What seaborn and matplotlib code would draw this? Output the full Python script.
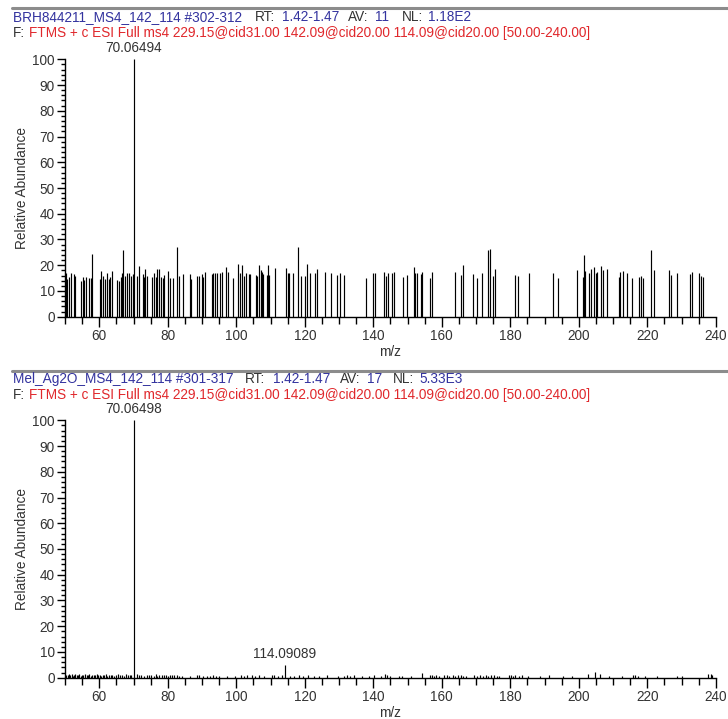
import matplotlib
matplotlib.use("Agg")
import matplotlib.pyplot as plt
from matplotlib.ticker import MultipleLocator
from matplotlib.lines import Line2D
import seaborn as sns

sns.set_style("ticks")
plt.rcParams['font.family'] = ['Liberation Sans', 'DejaVu Sans']

# ---------------- data ----------------
top_mz = [50.29, 50.68, 51.27, 51.66, 52.63, 53.02, 54.58, 55.16, 55.55, 56.13, 57.11, 57.69, 57.98,
          60.22, 60.61, 61.20, 61.59, 62.17, 62.76, 63.15, 63.63, 65.09, 65.68, 66.26, 66.55, 67.04,
          67.43, 68.01, 68.60, 69.18, 69.77, 70.06494, 70.93, 71.52, 72.69, 73.08, 73.47, 74.05, 75.41,
          76.00, 76.58, 76.97, 77.56, 78.14, 78.53, 78.92, 80.09, 80.67, 81.65, 82.62, 83.20, 84.37,
          86.51, 86.90, 88.66, 89.24, 90.02, 90.41, 90.99, 92.94, 93.33, 93.91, 94.50, 95.28, 95.86,
          97.03, 97.61, 99.17, 100.54, 101.12, 101.70, 102.29, 102.87, 103.65, 104.04, 105.79, 106.18,
          106.57, 107.16, 107.55, 107.94, 108.91, 109.30, 109.69, 111.25, 114.56, 115.14, 115.53,
          116.51, 118.06, 118.84, 120.01, 120.59, 121.57, 122.93, 123.52, 126.05, 127.80, 129.55,
          130.14, 131.50, 137.93, 139.87, 140.46, 142.99, 143.57, 144.35, 145.37, 146.05, 148.77,
          149.94, 151.89, 152.28, 152.67, 153.83, 154.22, 156.56, 157.05, 163.76, 165.51, 166.10,
          169.21, 170.38, 171.64, 173.40, 174.08, 174.86, 175.54, 181.28, 182.25, 185.37, 192.57,
          194.03, 199.58, 201.13, 201.52, 201.91, 202.98, 203.47, 204.35, 205.03, 205.41, 206.58,
          207.17, 208.14, 211.84, 212.03, 213.01, 214.17, 215.64, 217.68, 218.26, 218.65, 220.99,
          221.96, 226.24, 226.83, 228.58, 232.47, 232.96, 235.20, 235.59, 236.17]
top_ab = [16.9, 14.5, 15.5, 17.1, 16.5, 16.0, 14.0, 15.5, 14.2, 15.5, 14.9, 14.9, 24.2,
          14.5, 17.6, 15.8, 14.5, 17.1, 14.5, 15.5, 17.6, 14.2, 14.0, 15.5, 16.9, 25.9,
          15.8, 16.9, 16.9, 15.8, 16.6, 100.0, 15.8, 19.7, 16.6, 15.5, 18.6, 15.8, 15.5,
          16.9, 15.5, 18.4, 18.4, 15.5, 14.9, 16.2, 17.8, 15.2, 15.2, 26.9, 15.8, 16.6,
          16.6, 14.5, 15.8, 15.8, 16.6, 15.5, 17.5, 16.6, 16.9, 17.1, 17.1, 16.9, 17.5,
          19.4, 17.5, 15.2, 20.4, 17.1, 20.1, 15.8, 16.9, 16.6, 16.6, 16.2, 15.8, 20.1,
          18.1, 17.5, 16.6, 16.2, 20.1, 16.2, 18.8, 18.8, 16.9, 16.9, 16.9, 26.9, 15.8,
          15.8, 20.4, 16.9, 17.1, 18.4, 17.5, 17.1, 16.2, 17.1, 16.2, 14.9, 17.1, 17.1,
          17.5, 15.8, 17.1, 17.0, 17.5, 15.5, 16.2, 19.4, 16.9, 17.1, 16.6, 17.5, 14.9,
          17.5, 17.5, 16.2, 20.1, 16.6, 15.2, 17.1, 25.9, 26.4, 15.8, 18.4, 16.2, 15.8,
          16.9, 17.1, 14.9, 18.1, 15.5, 24.0, 17.8, 16.9, 18.4, 19.4, 17.1, 17.5, 19.7,
          18.1, 18.4, 15.5, 17.5, 17.8, 17.1, 14.9, 15.5, 15.8, 14.9, 25.9, 18.1, 18.1,
          16.2, 16.9, 16.6, 17.5, 16.9, 15.8, 15.5]

bot_mz = [50.4, 50.8, 51.1, 51.5, 51.9, 52.3, 52.7, 53.0, 53.4, 53.8, 54.2, 54.6, 55.0, 55.4, 55.9,
          56.3, 56.7, 57.1, 57.5, 58.0, 58.4, 58.8, 59.2, 59.7, 60.1, 60.6, 61.0, 61.5, 62.0, 62.4,
          62.9, 63.3, 63.8, 64.4, 65.0, 65.6, 66.1, 66.7, 67.3, 67.8, 68.3, 68.9, 69.4, 70.06498,
          71.0, 71.6, 72.3, 73.1, 73.8, 74.5, 75.2, 75.9, 76.6, 77.0, 77.5, 78.3, 79.0, 79.4, 80.2,
          80.8, 81.3, 81.9, 82.6, 83.4, 84.1, 86.6, 88.5, 89.2, 90.3, 91.6, 92.4, 93.3, 94.0, 95.1,
          97.3, 99.6, 101.3, 102.2, 103.0, 104.6, 105.4, 106.7, 108.2, 110.3, 111.0, 112.3, 113.3,
          114.09089, 115.8, 117.0, 118.3, 119.6, 120.8, 122.6, 124.1, 126.4, 129.8, 131.4, 132.2,
          133.1, 134.3, 136.6, 138.8, 140.3, 142.2, 143.3, 144.0, 145.0, 147.6, 148.5, 151.0, 154.1,
          156.6, 157.1, 157.6, 158.3, 159.2, 160.6, 161.4, 162.1, 163.3, 164.0, 164.7, 165.6, 166.3,
          167.1, 169.3, 170.4, 171.2, 172.0, 172.8, 173.6, 174.3, 175.1, 176.0, 176.7, 179.6, 180.1,
          180.8, 181.5, 182.4, 183.5, 185.2, 188.6, 191.2, 195.5, 198.1, 202.8, 204.8, 206.3, 208.9,
          212.6, 215.8, 216.4, 217.3, 219.4, 222.7, 228.6, 230.1, 237.8, 238.5, 239.0]
bot_ab = [1.2, 0.9, 1.4, 1.0, 1.3, 0.8, 1.2, 1.5, 0.9, 1.1, 1.3, 0.8, 1.2, 1.0, 1.4,
          0.9, 1.1, 1.3, 0.7, 1.0, 1.2, 0.9, 1.4, 1.0, 1.1, 0.8, 1.2, 0.9, 1.3, 0.7,
          1.0, 1.2, 0.9, 0.8, 1.1, 1.3, 0.9, 1.2, 0.8, 1.4, 1.0, 0.9, 1.1, 100.0,
          1.3, 0.9, 1.0, 0.8, 1.2, 0.9, 1.1, 0.7, 1.3, 0.8, 1.0, 1.2, 0.9, 1.1, 0.8,
          1.2, 1.0, 0.9, 1.1, 0.8, 0.7, 0.6, 0.9, 1.1, 0.7, 0.8, 0.6, 0.9, 0.7, 0.8,
          0.6, 0.7, 0.9, 0.7, 1.0, 1.2, 0.8, 1.1, 0.7, 0.9, 1.0, 0.6, 0.9,
          5.0, 0.8, 0.7, 0.9, 0.7, 1.0, 0.8, 0.7, 0.9, 0.6, 0.8, 1.0,
          0.7, 0.9, 0.6, 0.8, 0.9, 0.7, 1.4, 1.0, 0.6, 0.7, 0.6, 0.5, 1.8,
          0.9, 1.1, 0.8, 1.0, 0.7, 0.9, 1.1, 0.7, 1.2, 0.8, 1.0, 1.2, 0.8,
          0.7, 0.9, 0.7, 1.1, 0.8, 1.0, 0.7, 1.2, 0.9, 0.7, 0.8, 0.9, 1.1,
          0.8, 1.0, 0.7, 0.9, 0.8, 0.7, 0.9, 0.8, 0.7, 1.5, 2.1, 1.6, 0.7,
          0.8, 0.9, 1.2, 0.8, 0.7, 0.8, 0.7, 0.8, 1.6, 1.4, 0.9]

top_label_mz, top_label_text = 70.06494, "70.06494"
bot_labels_mz = [70.06498, 114.09089]
bot_labels_ab = [100.0, 5.0]
bot_labels_text = ["70.06498", "114.09089"]

top_header = ["BRH844211_MS4_142_114 #302-312", "RT:", "1.42-1.47", "AV:", "11", "NL:", "1.18E2"]
bot_header = ["Mel_Ag2O_MS4_142_114 #301-317", "RT:", "1.42-1.47", "AV:", "17", "NL:", "5.33E3"]
filter_label = "F:"
filter_text = "FTMS + c ESI Full ms4 229.15@cid31.00 142.09@cid20.00 114.09@cid20.00 [50.00-240.00]"

# ---------------- layout ----------------
W, H = 728, 719
fig = plt.figure(figsize=(W / 100, H / 100), dpi=100)
fig.patch.set_facecolor("white")

BLUE = "#33339f"
RED = "#e0282c"
DARK = "#333333"
FS = 9.8

def fx(px):
    return px / W

def fy(py):
    return 1 - py / H

def header(y_line, y_blue, y_red, parts, xs):
    fig.add_artist(Line2D([fx(12), 1.0], [fy(y_line), fy(y_line)], color="#8c8c8c", lw=2.2))
    colors = [BLUE, DARK, BLUE, DARK, BLUE, DARK, BLUE]
    for t, x, c in zip(parts, xs, colors):
        fig.text(fx(x), fy(y_blue), t, color=c, fontsize=FS, va="center", ha="left")
    fig.text(fx(12.7), fy(y_red), filter_label, color=DARK, fontsize=FS, va="center", ha="left")
    fig.text(fx(29.3), fy(y_red), filter_text, color=RED, fontsize=FS, va="center", ha="left")

header(8.3, 17, 33, top_header, [12.7, 255, 281.7, 348, 375, 401.7, 428.3])
header(371, 379, 395, bot_header, [12.7, 245, 273.3, 340, 366.7, 393.3, 419.3])

def make_axes(rect):
    ax = fig.add_axes(rect)
    ax.set_facecolor("white")
    ax.set_xlim(50, 240)
    ax.set_ylim(0, 100)
    sns.despine(ax=ax)
    for s in ["left", "bottom"]:
        ax.spines[s].set_color("black")
        ax.spines[s].set_linewidth(1.0)
    ax.xaxis.set_major_locator(MultipleLocator(20))
    ax.xaxis.set_minor_locator(MultipleLocator(5))
    ax.yaxis.set_major_locator(MultipleLocator(10))
    ax.yaxis.set_minor_locator(MultipleLocator(2))
    ax.tick_params(axis="x", which="major", length=7, width=1, direction="out",
                   labelsize=FS, pad=2, colors="black", labelcolor=DARK)
    ax.tick_params(axis="x", which="minor", length=5, width=1, direction="out", colors="black")
    ax.tick_params(axis="y", which="major", length=6, width=1, direction="out",
                   labelsize=FS, pad=1.5, colors="black", labelcolor=DARK)
    ax.tick_params(axis="y", which="minor", length=3, width=1, direction="out", colors="black")
    ax.set_ylabel("Relative Abundance", fontsize=FS, color=DARK, labelpad=2.5)
    ax.set_xlabel("m/z", fontsize=FS, color=DARK, labelpad=1)
    ax.grid(False)
    return ax

ax1 = make_axes([fx(65), fy(316.7), fx(715.8) - fx(65), (316.7 - 59.3) / H])
ax1.vlines(top_mz, 0, top_ab, color="black", lw=0.85)
ax1.annotate(top_label_text, (top_label_mz, 100), xytext=(0, 3), textcoords="offset points",
             ha="center", va="bottom", fontsize=FS, color=DARK, annotation_clip=False)

ax2 = make_axes([fx(65), fy(677.7), fx(715.8) - fx(65), (677.7 - 420.3) / H])
ax2.vlines(bot_mz, 0, bot_ab, color="black", lw=0.85)
for m, a, t in zip(bot_labels_mz, bot_labels_ab, bot_labels_text):
    ax2.annotate(t, (m, a), xytext=(0, 3), textcoords="offset points",
                 ha="center", va="bottom", fontsize=FS, color=DARK, annotation_clip=False)

fig.savefig("out.png", dpi=100, facecolor="white")
